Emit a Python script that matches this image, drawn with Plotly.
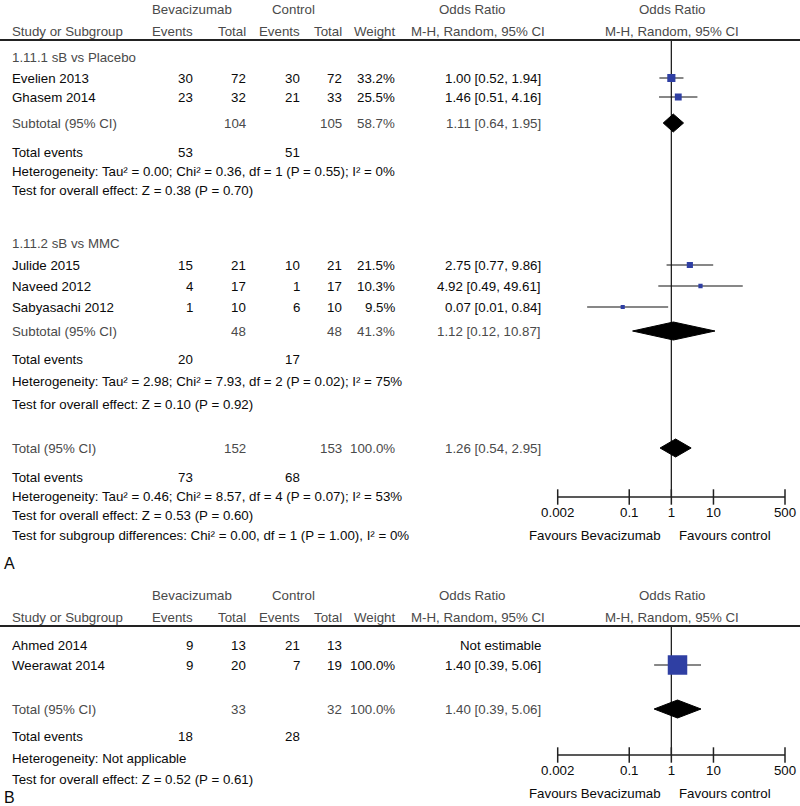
import math
import plotly.graph_objects as go

# ---- panel A data ----
studies_a = ["Evelien 2013", "Ghasem 2014", "Julide 2015", "Naveed 2012", "Sabyasachi 2012"]
group_a = [0, 0, 1, 1, 1]
bev_events_a = [30, 23, 15, 4, 1]
bev_total_a = [72, 32, 21, 17, 10]
ctl_events_a = [30, 21, 10, 1, 6]
ctl_total_a = [72, 33, 21, 17, 10]
weight_a = [33.2, 25.5, 21.5, 10.3, 9.5]
or_a = [1.00, 1.46, 2.75, 4.92, 0.07]
lo_a = [0.52, 0.51, 0.77, 0.49, 0.01]
hi_a = [1.94, 4.16, 9.86, 49.61, 0.84]

subgroups = ["1.11.1 sB vs Placebo", "1.11.2 sB vs MMC"]
sub_bev_total = [104, 48]
sub_ctl_total = [105, 48]
sub_weight = [58.7, 41.3]
sub_or = [1.11, 1.12]
sub_lo = [0.64, 0.12]
sub_hi = [1.95, 10.87]
sub_bev_events = [53, 20]
sub_ctl_events = [51, 17]
sub_het = [
    "Heterogeneity: Tau² = 0.00; Chi² = 0.36, df = 1 (P = 0.55); I² = 0%",
    "Heterogeneity: Tau² = 2.98; Chi² = 7.93, df = 2 (P = 0.02); I² = 75%",
]
sub_test = [
    "Test for overall effect: Z = 0.38 (P = 0.70)",
    "Test for overall effect: Z = 0.10 (P = 0.92)",
]

tot_a = dict(bev_total=152, ctl_total=153, weight=100.0, est=1.26, lo=0.54, hi=2.95,
             bev_events=73, ctl_events=68)
tot_a_het = "Heterogeneity: Tau² = 0.46; Chi² = 8.57, df = 4 (P = 0.07); I² = 53%"
tot_a_test = "Test for overall effect: Z = 0.53 (P = 0.60)"
tot_a_sub = "Test for subgroup differences: Chi² = 0.00, df = 1 (P = 1.00), I² = 0%"

# ---- panel B data ----
studies_b = ["Ahmed 2014", "Weerawat 2014"]
bev_events_b = [9, 9]
bev_total_b = [13, 20]
ctl_events_b = [21, 7]
ctl_total_b = [13, 19]
weight_b = [None, 100.0]
or_b = [None, 1.40]
lo_b = [None, 0.39]
hi_b = [None, 5.06]

tot_b = dict(bev_total=33, ctl_total=32, weight=100.0, est=1.40, lo=0.39, hi=5.06,
             bev_events=18, ctl_events=28)
tot_b_het = "Heterogeneity: Not applicable"
tot_b_test = "Test for overall effect: Z = 0.52 (P = 0.61)"

tick_vals = [0.002, 0.1, 1, 10, 500]
tick_text = ["0.002", "0.1", "1", "10", "500"]

W, H = 800, 806
FONT = "Liberation Sans, Arial, sans-serif"
BLUE = "#2f3fa3"
GREY = "#4a4a4a"
INK = "#0a0a0a"

# column x positions (pixels)
X_NAME, X_BEV_EV, X_BEV_TOT, X_CTL_EV, X_CTL_TOT, X_WEIGHT, X_EFFECT = 11, 194, 247, 301, 343, 396, 542

fig = go.Figure()
ann = []
shapes = []


def txt(x, y, s, anchor="left", color=INK, size=13.3):
    ann.append(dict(x=x / W, y=y, xref="paper", yref="y", text=s, showarrow=False,
                    xanchor=anchor, yanchor="middle", borderpad=0,
                    font=dict(family=FONT, size=size, color=color)))


def fmt_ci(e, lo, hi):
    return f"{e:.2f} [{lo:.2f}, {hi:.2f}]"


def header(y1, y2, yline):
    txt(192, y1, "Bevacizumab", "center", GREY)
    txt(293, y1, "Control", "center", GREY)
    txt(472, y1, "Odds Ratio", "center", GREY)
    txt(672, y1, "Odds Ratio", "center", GREY)
    txt(X_NAME, y2, "Study or Subgroup", "left", GREY)
    txt(X_BEV_EV, y2, "Events", "right", GREY)
    txt(X_BEV_TOT, y2, "Total", "right", GREY)
    txt(X_CTL_EV, y2, "Events", "right", GREY)
    txt(X_CTL_TOT, y2, "Total", "right", GREY)
    txt(X_WEIGHT, y2, "Weight", "right", GREY)
    txt(478, y2, "M-H, Random, 95% CI", "center", GREY)
    txt(672, y2, "M-H, Random, 95% CI", "center", GREY)
    shapes.append(dict(type="line", xref="paper", yref="y", x0=0, x1=1, y0=yline, y1=yline,
                       line=dict(color="#222222", width=2)))


def study_row(y, name, be, bt, ce, ct, w, e, lo, hi):
    txt(X_NAME, y, name)
    txt(X_BEV_EV, y, str(be), "right")
    txt(X_BEV_TOT, y, str(bt), "right")
    txt(X_CTL_EV, y, str(ce), "right")
    txt(X_CTL_TOT, y, str(ct), "right")
    if e is None:
        txt(X_EFFECT, y, "Not estimable", "right")
        return
    txt(X_WEIGHT, y, f"{w:.1f}%", "right")
    txt(X_EFFECT, y, fmt_ci(e, lo, hi), "right")
    fig.add_trace(go.Scatter(x=[lo, hi], y=[y, y], mode="lines",
                             line=dict(color="#111111", width=1.2), hoverinfo="skip"))
    fig.add_trace(go.Scatter(x=[e], y=[y], mode="markers",
                             marker=dict(symbol="square", size=2.5 + 0.17 * w, color=BLUE,
                                         line=dict(width=0)), hoverinfo="skip"))


def pooled_row(y, label, t, half=9):
    txt(X_NAME, y, label, "left", GREY)
    txt(X_BEV_TOT, y, str(t["bev_total"]), "right", GREY)
    txt(X_CTL_TOT, y, str(t["ctl_total"]), "right", GREY)
    txt(X_WEIGHT, y, f"{t['weight']:.1f}%", "right", GREY)
    txt(X_EFFECT, y, fmt_ci(t["est"], t["lo"], t["hi"]), "right", GREY)
    fig.add_trace(go.Scatter(x=[t["lo"], t["est"], t["hi"], t["est"], t["lo"]],
                             y=[y, y - half, y, y + half, y], mode="lines", fill="toself",
                             fillcolor="#000000", line=dict(color="#000000", width=1),
                             hoverinfo="skip"))


def events_row(y, be, ce):
    txt(X_NAME, y, "Total events")
    txt(X_BEV_EV, y, str(be), "right")
    txt(X_CTL_EV, y, str(ce), "right")


def axis(y0, yaxis):
    # vertical no-effect line
    fig.add_trace(go.Scatter(x=[1, 1], y=[y0, yaxis], mode="lines",
                             line=dict(color="#222222", width=1.3), hoverinfo="skip"))
    fig.add_trace(go.Scatter(x=[tick_vals[0], tick_vals[-1]], y=[yaxis, yaxis], mode="lines",
                             line=dict(color="#222222", width=1.5), hoverinfo="skip"))
    fig.add_trace(go.Scatter(x=tick_vals, y=[yaxis] * len(tick_vals), mode="markers",
                             marker=dict(symbol="line-ns", size=11,
                                         line=dict(color="#222222", width=1.5)),
                             cliponaxis=False, hoverinfo="skip"))
    fig.add_trace(go.Scatter(x=tick_vals, y=[yaxis + 17] * len(tick_vals), mode="text",
                             text=tick_text, textposition="middle center",
                             textfont=dict(family=FONT, size=13.3, color=INK),
                             cliponaxis=False, hoverinfo="skip"))
    txt(662, yaxis + 38, "Favours Bevacizumab", "right")
    txt(678, yaxis + 38, "Favours control", "left")


# ---- panel A ----
header(9, 31, 40)
axis(40, 497)

rows_a = {0: [78, 97], 1: [265, 286, 307]}
sub_y = [(57, 123, 152, 171, 190), (243, 331, 359, 381, 404)]
for g, name in enumerate(subgroups):
    ylab, ysub, yev, yhet, ytest = sub_y[g]
    txt(X_NAME, ylab, name, "left", GREY)
    idx = [i for i in range(len(studies_a)) if group_a[i] == g]
    for k, i in enumerate(idx):
        study_row(rows_a[g][k], studies_a[i], bev_events_a[i], bev_total_a[i],
                  ctl_events_a[i], ctl_total_a[i], weight_a[i], or_a[i], lo_a[i], hi_a[i])
    pooled_row(ysub, "Subtotal (95% CI)",
               dict(bev_total=sub_bev_total[g], ctl_total=sub_ctl_total[g], weight=sub_weight[g],
                    est=sub_or[g], lo=sub_lo[g], hi=sub_hi[g]))
    events_row(yev, sub_bev_events[g], sub_ctl_events[g])
    txt(X_NAME, yhet, sub_het[g])
    txt(X_NAME, ytest, sub_test[g])

pooled_row(448, "Total (95% CI)", tot_a)
events_row(477, tot_a["bev_events"], tot_a["ctl_events"])
txt(X_NAME, 496, tot_a_het)
txt(X_NAME, 515, tot_a_test)
txt(X_NAME, 535, tot_a_sub)
txt(3, 563, "A", "left", INK, 16)

# ---- panel B ----
header(595, 617, 626)
axis(626, 755)
for k, yb in enumerate([645, 665]):
    study_row(yb, studies_b[k], bev_events_b[k], bev_total_b[k], ctl_events_b[k],
              ctl_total_b[k], weight_b[k], or_b[k], lo_b[k], hi_b[k])
pooled_row(709, "Total (95% CI)", tot_b)
events_row(736, tot_b["bev_events"], tot_b["ctl_events"])
txt(X_NAME, 758, tot_b_het)
txt(X_NAME, 779, tot_b_test)
txt(3, 797, "B", "left", INK, 16)

fig.update_layout(
    width=W, height=H,
    margin=dict(l=0, r=0, t=0, b=0),
    paper_bgcolor="#ffffff", plot_bgcolor="rgba(0,0,0,0)",
    showlegend=False,
    font=dict(family=FONT, size=13, color=INK),
    annotations=ann, shapes=shapes,
    xaxis=dict(type="log", domain=[557.7 / W, 785 / W],
               range=[math.log10(tick_vals[0]), math.log10(tick_vals[-1])],
               visible=False, fixedrange=True),
    yaxis=dict(range=[H, 0], domain=[0, 1], visible=False, fixedrange=True),
)

# drop the default 8px page margin so the figure sits at the window corner
fig.write_html("out.html", config={"displayModeBar": False},
               post_script="document.body.style.margin='0';")
